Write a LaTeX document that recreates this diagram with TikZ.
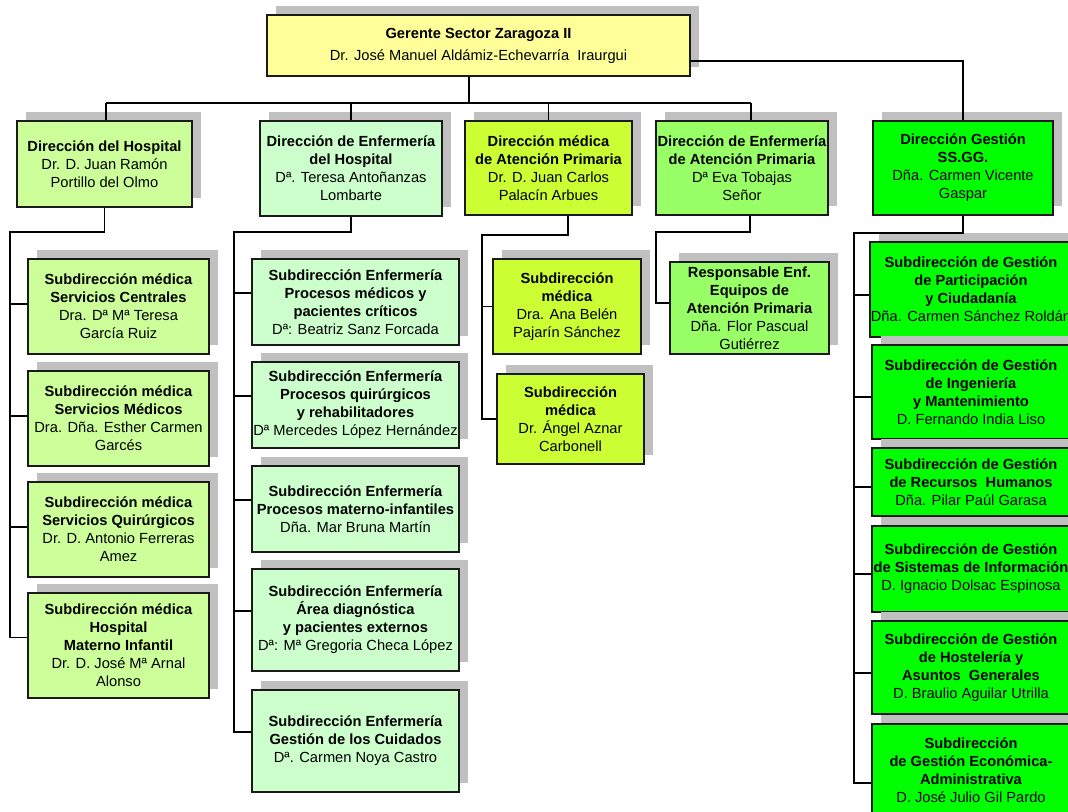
\documentclass[tikz,border=0pt]{standalone}
\usepackage{fontspec}
\setmainfont{Liberation Sans}
\usepackage{xcolor}
\usetikzlibrary{shadows}
\definecolor{cGer}{HTML}{FFFF99}
\definecolor{cHosp}{HTML}{CCFF99}
\definecolor{cEnfH}{HTML}{CCFFCC}
\definecolor{cMedAP}{HTML}{CCFF33}
\definecolor{cEnfAP}{HTML}{99FF66}
\definecolor{cGest}{HTML}{00FF00}
\definecolor{shadowgray}{HTML}{C0C0C0}
\definecolor{boxline}{HTML}{1A1A1A}

\begin{document}
\begin{tikzpicture}[x=0.75pt, y=-0.75pt,
    box/.style={draw=boxline, line width=1.2pt, align=center, inner xsep=0.5pt, inner ysep=1pt,
      font=\fontsize{11}{13.5}\selectfont,
      general shadow={fill=shadowgray, shadow xshift=6.75pt, shadow yshift=6.75pt}},
    sz/.style 2 args={minimum width=#1*0.75pt, minimum height=#2*0.75pt},
    gerbox/.style={box, fill=cGer},
    hosp/.style={box, fill=cHosp},
    enfh/.style={box, fill=cEnfH},
    medap/.style={box, fill=cMedAP},
    enfap/.style={box, fill=cEnfAP},
    gest/.style={box, fill=cGest},
    link/.style={line width=1.3pt, black}]

\useasboundingbox[fill=white] (0,0) rectangle (1068,812);

\node [gerbox, sz={423}{61}] (ger) at (478.5,45.5){\textbf{Gerente Sector Zaragoza II}\\[3pt]Dr. José Manuel\ Aldámiz-Echevarría\ \ Iraurgui};

\node [hosp, sz={175}{86}] (dh) at (104.5,164){\textbf{Dirección del Hospital}\\Dr. D. Juan Ramón\\Portillo del Olmo};
\node [enfh, sz={182}{95}] (deh) at (351,168.5){\textbf{Dirección de Enfermería}\\\textbf{del Hospital}\\Dª. Teresa Antoñanzas\\Lombarte};
\node [medap, sz={167}{94}] (dmap) at (548.5,168){\textbf{Dirección médica}\\\textbf{de Atención Primaria}\\Dr. D. Juan Carlos\\Palacín Arbues};
\node [enfap, sz={172}{94}] (deap) at (742,168){\textbf{Dirección de Enfermería}\\\textbf{de Atención Primaria}\\Dª Eva Tobajas\\Señor};
\node [gest, sz={180}{94}] (dg) at (963,168){\textbf{Dirección Gestión}\\\textbf{SS.GG.}\\Dña. Carmen Vicente\\Gaspar};

\node [hosp, sz={181}{95}] (s11) at (118.5,306.5){\textbf{Subdirección médica}\\\textbf{Servicios Centrales}\\Dra. Dª Mª Teresa\\García Ruiz};
\node [hosp, sz={181}{95}] (s12) at (118.5,418.5){\textbf{Subdirección médica}\\\textbf{Servicios Médicos}\\Dra. Dña. Esther Carmen\\Garcés};
\node [hosp, sz={181}{95}] (s13) at (118.5,529.5){\textbf{Subdirección médica}\\\textbf{Servicios Quirúrgicos}\\Dr. D. Antonio Ferreras\\Amez};
\node [hosp, sz={181}{105}] (s14) at (118.5,645.5){\textbf{Subdirección médica}\\\textbf{Hospital}\\\textbf{Materno Infantil}\\Dr. D. José Mª Arnal\\Alonso};

\node [enfh, sz={207}{86}] (s21) at (355.5,302){\textbf{Subdirección Enfermería}\\\textbf{Procesos médicos y}\\\textbf{pacientes críticos}\\Dª: Beatriz Sanz Forcada};
\node [enfh, sz={207}{86}] (s22) at (355.5,405){\textbf{Subdirección Enfermería}\\\textbf{Procesos quirúrgicos}\\\textbf{y rehabilitadores}\\Dª Mercedes López Hernández};
\node [enfh, sz={207}{86}] (s23) at (355.5,509){\textbf{Subdirección Enfermería}\\\textbf{Procesos materno-infantiles}\\Dña. Mar Bruna Martín};
\node [enfh, sz={207}{102}] (s24) at (355.5,620){\textbf{Subdirección Enfermería}\\\textbf{Área diagnóstica}\\\textbf{y pacientes externos}\\Dª: Mª Gregoria Checa López};
\node [enfh, sz={207}{102}] (s25) at (355.5,741){\textbf{Subdirección Enfermería}\\\textbf{Gestión de los Cuidados}\\Dª. Carmen Noya Castro};

\node [medap, sz={148}{95}] (s31) at (567,306.5){\textbf{Subdirección}\\\textbf{médica}\\Dra. Ana Belén\\Pajarín Sánchez};
\node [medap, sz={147}{90}] (s32) at (570.5,419){\textbf{Subdirección}\\\textbf{médica}\\Dr. Ángel Aznar\\Carbonell};

\node [enfap, sz={159}{92}] (s41) at (749.5,308){\textbf{Responsable Enf.}\\\textbf{Equipos de}\\\textbf{Atención Primaria}\\Dña. Flor Pascual\\Gutiérrez};

\node [gest, sz={198}{95}] (s51) at (971,289.5){\textbf{Subdirección de Gestión}\\\textbf{de Participación}\\\textbf{y Ciudadanía}\\Dña. Carmen Sánchez Roldán};
\node [gest, sz={198}{94}] (s52) at (971,392){\textbf{Subdirección de Gestión}\\\textbf{de Ingeniería}\\\textbf{y Mantenimiento}\\D. Fernando India Liso};
\node [gest, sz={198}{68}] (s53) at (971,482){\textbf{Subdirección de Gestión}\\\textbf{de Recursos\ \ Humanos}\\Dña. Pilar Paúl Garasa};
\node [gest, sz={198}{86}] (s54) at (971,569){\textbf{Subdirección de Gestión}\\\textbf{de Sistemas de Información}\\D. Ignacio Dolsac Espinosa};
\node [gest, sz={198}{93}] (s55) at (971,667.5){\textbf{Subdirección de Gestión}\\\textbf{de Hostelería y}\\\textbf{Asuntos\ \ Generales}\\D. Braulio Aguilar Utrilla};
\node [gest, sz={198}{92}] (s56) at (971,770){\textbf{Subdirección}\\\textbf{de Gestión Económica-}\\\textbf{Administrativa}\\D. José Julio Gil Pardo};

% top level
\coordinate (busL) at (106,103);
\coordinate (busR) at (751,103);
\coordinate (gdrop) at (469,103);
\draw [link] (busL) -- (busR);
\draw [link] (gdrop |- ger.south) -- (gdrop);
\draw [link] (busL) -- (busL |- dh.north);
\draw [link] (deh.north |- busL) -- (deh.north);
\draw [link] (dmap.north |- busL) -- (dmap.north);
\draw [link] (busR) -- (busR |- deap.north);
\draw [link] ([yshift=-11.6pt]ger.east) -| (dg.north);

% columns
\coordinate (c1) at (10,232);
\draw [link] (dh.south) |- (c1) |- ([yshift=6pt]s14.west);
\foreach \n in {s11,s12,s13}
  \draw [link] ([yshift=2pt]\n.west) coordinate (b\n) -- (b\n -| c1);

\coordinate (c2) at (234,232);
\draw [link] (deh.south) |- (c2) |- ([yshift=7pt]s25.west);
\foreach \n in {s21,s22,s23,s24}
  \draw [link] ([yshift=7pt]\n.west) coordinate (b\n) -- (b\n -| c2);

\coordinate (c3) at (482,235);
\coordinate (d3) at (568,235);
\draw [link] (d3 |- dmap.south) -- (d3) -- (c3) |- (s32.west);
\draw [link] (s31.west) coordinate (bs31) -- (bs31 -| c3);

\coordinate (c4) at (656,232);
\coordinate (d4) at (750,232);
\draw [link] (d4 |- deap.south) -- (d4) -- (c4) |- ([yshift=4pt]s41.west);

\coordinate (c5) at (854,233);
\draw [link] (dg.south) |- (c5) |- ([yshift=-10pt]s56.west);
\foreach \n in {s51,s52,s53,s54,s55}
  \draw [link] ([yshift=-4pt]\n.west) coordinate (b\n) -- (b\n -| c5);
\end{tikzpicture}
\end{document}
